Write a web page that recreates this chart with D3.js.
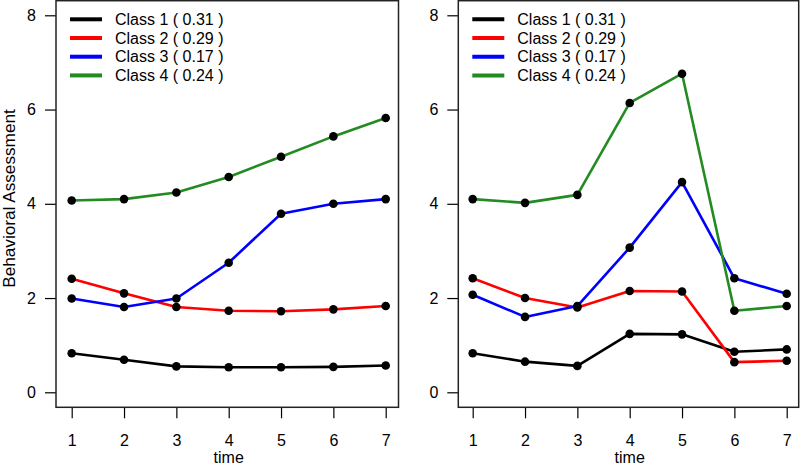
<!DOCTYPE html>
<html>
<head>
<meta charset="utf-8">
<script src="https://cdn.jsdelivr.net/npm/d3@7"></script>
<style>
  html, body { margin: 0; padding: 0; background: #fff; }
  svg { display: block; }
  text { font-family: "Liberation Sans", Arial, Helvetica, sans-serif; fill: #000; }
</style>
</head>
<body>
<svg id="chart" width="800" height="465"></svg>
<script>
// ---- data ----
const times = [1, 2, 3, 4, 5, 6, 7];
const classNames = ["Class 1 ( 0.31 )", "Class 2 ( 0.29 )", "Class 3 ( 0.17 )", "Class 4 ( 0.24 )"];
const classColors = ["#000000", "#FF0000", "#0000FF", "#228B22"];
const yTicks = [0, 2, 4, 6, 8];

// left panel
const leftClass1 = [0.83, 0.69, 0.55, 0.53, 0.53, 0.54, 0.57];
const leftClass2 = [2.41, 2.10, 1.81, 1.73, 1.72, 1.76, 1.83];
const leftClass3 = [1.99, 1.81, 1.99, 2.75, 3.79, 4.00, 4.10];
const leftClass4 = [4.07, 4.10, 4.24, 4.57, 5.00, 5.43, 5.82];

// right panel
const rightClass1 = [0.83, 0.65, 0.56, 1.24, 1.23, 0.86, 0.91];
const rightClass2 = [2.42, 2.00, 1.80, 2.15, 2.14, 0.64, 0.67];
const rightClass3 = [2.07, 1.60, 1.83, 3.07, 4.46, 2.42, 2.09];
const rightClass4 = [4.10, 4.02, 4.19, 6.14, 6.76, 1.73, 1.83];

const panels = [
  { series: [leftClass1, leftClass2, leftClass3, leftClass4], box: [56, 398.5], ticks: [71.7, 385.7], ylabel: true },
  { series: [rightClass1, rightClass2, rightClass3, rightClass4], box: [458.3, 798.7], ticks: [472.7, 786.7], ylabel: false }
];

const svg = d3.select("#chart");
const boxTop = 0.7, boxBottom = 407.3;
const y = d3.scaleLinear().domain([0, 8]).range([392.3, 15.3]);
const fontSize = 16;

panels.forEach(p => {
  const x = d3.scaleLinear().domain([1, 7]).range(p.ticks);
  const g = svg.append("g");

  // y axis
  const ya = g.append("g")
    .attr("transform", `translate(${p.box[0]},0)`)
    .call(d3.axisLeft(y).tickValues(yTicks).tickSize(11).tickPadding(9).tickFormat(d3.format("d")));
  ya.select(".domain").remove();
  ya.selectAll("line").attr("stroke", "#000").attr("stroke-width", 1.2);
  ya.selectAll("text").style("font-size", fontSize + "px").attr("font-family", null);

  // x axis
  const xa = g.append("g")
    .attr("transform", `translate(0,${boxBottom})`)
    .call(d3.axisBottom(x).tickValues(times).tickSize(11).tickPadding(16).tickFormat(d3.format("d")));
  xa.select(".domain").remove();
  xa.selectAll("line").attr("stroke", "#000").attr("stroke-width", 1.2);
  xa.selectAll("text").style("font-size", fontSize + "px").attr("font-family", null);

  // x label
  g.append("text")
    .attr("x", (p.ticks[0] + p.ticks[1]) / 2)
    .attr("y", 462.5)
    .attr("text-anchor", "middle")
    .style("font-size", fontSize + "px")
    .text("time");

  if (p.ylabel) {
    g.append("text")
      .attr("transform", `translate(15,198.5) rotate(-90)`)
      .attr("text-anchor", "middle")
      .style("font-size", "17.2px")
      .text("Behavioral Assessment");
  }

  // lines
  const line = d3.line().x((d, i) => x(times[i])).y(d => y(d));
  p.series.forEach((s, k) => {
    g.append("path")
      .datum(s)
      .attr("d", line)
      .attr("fill", "none")
      .attr("stroke", classColors[k])
      .attr("stroke-width", 2.6)
      .attr("stroke-linejoin", "round");
  });
  // points
  p.series.forEach((s, k) => {
    g.selectAll(null)
      .data(s)
      .enter().append("circle")
      .attr("cx", (d, i) => x(times[i]))
      .attr("cy", d => y(d))
      .attr("r", 4.3)
      .attr("fill", "#000");
  });

  // box
  g.append("rect")
    .attr("x", p.box[0]).attr("y", boxTop)
    .attr("width", p.box[1] - p.box[0]).attr("height", boxBottom - boxTop)
    .attr("fill", "none").attr("stroke", "#222").attr("stroke-width", 1.5);

  // legend
  const lx = p.box[0] + 14;
  classNames.forEach((name, k) => {
    const ly = 19.3 + k * 18.7;
    g.append("line")
      .attr("x1", lx).attr("x2", lx + 32)
      .attr("y1", ly).attr("y2", ly)
      .attr("stroke", classColors[k]).attr("stroke-width", 4);
    g.append("text")
      .attr("x", lx + 45).attr("y", ly)
      .attr("dy", "0.36em")
      .style("font-size", fontSize + "px")
      .text(name);
  });
});
</script>
</body>
</html>
